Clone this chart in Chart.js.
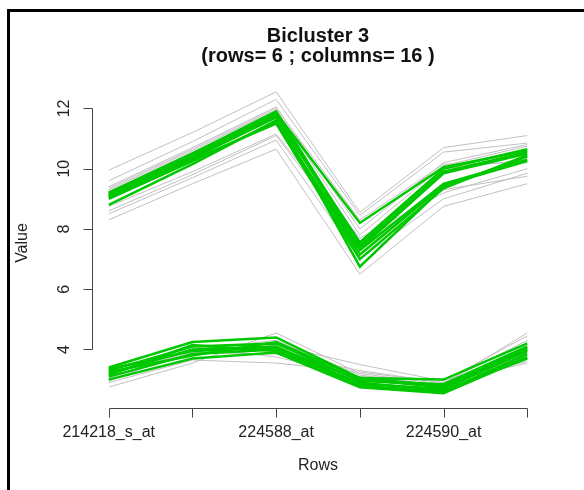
<!DOCTYPE html>
<html><head><meta charset="utf-8">
<script src="https://cdn.jsdelivr.net/npm/chart.js@4/dist/chart.umd.min.js"></script>
<style>html,body{margin:0;padding:0;background:#fff}#wrap{width:584px;height:490px;position:relative}</style>
</head><body><div id="wrap"><canvas id="c" width="584" height="490"></canvas></div>
<script>
// ---- data ----
const rowPositions = [1, 2, 3, 4, 5, 6];
const rowTickLabels = ['214218_s_at', '', '224588_at', '', '224590_at', ''];
const yTicks = [4, 6, 8, 10, 12];
const titleLines = ['Bicluster 3', '(rows= 6 ; columns= 16 )'];
const xTitle = 'Rows';
const yTitle = 'Value';

// bicluster columns (green), upper group
const green1 = [9.15, 10.45, 11.85, 8.20, 10.05, 10.60];
const green2 = [9.05, 10.35, 11.70, 7.55, 10.00, 10.65];
const green3 = [9.20, 10.50, 11.80, 7.35, 9.85, 10.50];
const green4 = [8.80, 10.15, 11.60, 7.15, 9.45, 10.25];
const green5 = [9.10, 10.40, 11.75, 6.75, 9.40, 10.40];
const green6 = [9.00, 10.25, 11.55, 7.30, 9.50, 10.30];
const green7 = [9.10, 10.30, 11.50, 7.00, 9.35, 10.45];
const green8 = [9.20, 10.50, 11.90, 7.45, 9.90, 10.55];
// bicluster columns (green), lower group
const green9  = [3.40, 4.25, 4.40, 3.05, 3.00, 4.20];
const green10 = [3.30, 4.10, 4.20, 2.95, 2.85, 4.10];
const green11 = [3.20, 4.00, 4.10, 2.85, 2.70, 3.95];
const green12 = [3.10, 3.85, 4.00, 2.80, 2.60, 3.85];
const green13 = [3.00, 3.70, 3.90, 2.75, 2.55, 3.75];
const green14 = [3.35, 3.95, 4.05, 3.00, 2.75, 4.05];
const green15 = [3.15, 4.15, 3.95, 2.90, 2.65, 3.70];
const green16 = [3.25, 3.80, 4.25, 3.05, 2.80, 4.00];

// other columns (grey), upper group
const grey1  = [9.95, 11.20, 12.55, 8.55, 10.70, 11.10];
const grey2  = [9.60, 10.90, 12.30, 8.45, 10.55, 10.85];
const grey3  = [9.40, 10.70, 12.05, 8.00, 10.20, 10.80];
const grey4  = [9.30, 10.60, 11.95, 7.80, 10.10, 10.75];
const grey5  = [9.25, 10.55, 11.85, 7.60, 10.00, 10.30];
const grey6  = [8.75, 9.90, 11.15, 7.70, 9.20, 10.00];
const grey7  = [8.50, 9.70, 10.95, 7.00, 9.00, 9.85];
const grey8  = [8.30, 9.50, 10.65, 6.50, 8.75, 9.50];
const grey9  = [9.35, 10.65, 12.00, 8.30, 10.15, 10.20];
const grey10 = [8.60, 9.80, 11.10, 7.50, 9.30, 9.75];
// other columns (grey), lower group
const grey11 = [2.75, 3.55, 4.55, 3.20, 2.85, 4.55];
const grey12 = [2.90, 3.65, 3.55, 3.25, 2.90, 3.55];
const grey13 = [3.05, 3.85, 4.15, 3.50, 2.95, 4.45];
const grey14 = [3.30, 4.10, 3.75, 3.10, 3.00, 3.60];
const grey15 = [2.95, 4.00, 4.30, 3.15, 2.80, 3.90];
const grey16 = [3.20, 3.90, 3.85, 3.30, 2.90, 4.30];

const greenSeries = [green1, green2, green3, green4, green5, green6, green7, green8,
  green9, green10, green11, green12, green13, green14, green15, green16];
const greySeries = [grey1, grey2, grey3, grey4, grey5, grey6, grey7, grey8,
  grey9, grey10, grey11, grey12, grey13, grey14, grey15, grey16];

// ---- build ----
const FONT = '"Liberation Sans", Arial, sans-serif';
const toPts = arr => arr.map((v, i) => ({x: rowPositions[i], y: v}));
const datasets = [];
greySeries.forEach((s, i) => datasets.push({
  label: 'other ' + (i + 1), data: toPts(s), borderColor: '#c0c0c0', borderWidth: 1,
  pointRadius: 0, tension: 0, order: 2, fill: false
}));
greenSeries.forEach((s, i) => datasets.push({
  label: 'col ' + (i + 1), data: toPts(s), borderColor: '#00c800', borderWidth: 2.5,
  pointRadius: 0, tension: 0, order: 1, fill: false
}));

const rAxes = {
  id: 'rAxes',
  afterDraw(chart) {
    const ctx = chart.ctx, xs = chart.scales.x, ys = chart.scales.y, ca = chart.chartArea;
    ctx.save();
    // outer frame
    ctx.strokeStyle = '#000'; ctx.lineWidth = 3;
    ctx.strokeRect(8.5, 10.5, 800, 800);
    // axes
    ctx.strokeStyle = '#444'; ctx.lineWidth = 1;
    const x0 = Math.round(ca.left) + 0.5;
    ctx.beginPath();
    ctx.moveTo(x0, Math.round(ys.getPixelForValue(yTicks[0])) + 0.5);
    ctx.lineTo(x0, Math.round(ys.getPixelForValue(yTicks[yTicks.length - 1])) + 0.5);
    yTicks.forEach(t => { const p = Math.round(ys.getPixelForValue(t)) + 0.5; ctx.moveTo(x0, p); ctx.lineTo(x0 - 9, p); });
    const y0 = Math.round(ca.bottom) + 0.5;
    ctx.moveTo(Math.round(xs.getPixelForValue(rowPositions[0])) + 0.5, y0);
    ctx.lineTo(Math.round(xs.getPixelForValue(rowPositions[rowPositions.length - 1])) + 0.5, y0);
    rowPositions.forEach(t => { const p = Math.round(xs.getPixelForValue(t)) + 0.5; ctx.moveTo(p, y0); ctx.lineTo(p, y0 + 9); });
    ctx.stroke();
    // tick labels
    ctx.fillStyle = '#222'; ctx.font = '16px ' + FONT; ctx.textAlign = 'center'; ctx.textBaseline = 'middle';
    rowPositions.forEach((t, i) => { if (rowTickLabels[i]) ctx.fillText(rowTickLabels[i], xs.getPixelForValue(t), 433); });
    yTicks.forEach(t => {
      ctx.save(); ctx.translate(65, ys.getPixelForValue(t)); ctx.rotate(-Math.PI / 2);
      ctx.fillText(String(t), 0, 0); ctx.restore();
    });
    // axis titles
    const cx = (ca.left + ca.right) / 2;
    ctx.fillText(xTitle, cx, 466);
    ctx.save(); ctx.translate(23, (ca.top + ca.bottom) / 2); ctx.rotate(-Math.PI / 2);
    ctx.fillText(yTitle, 0, 0); ctx.restore();
    // main title
    ctx.fillStyle = '#111'; ctx.font = 'bold 20px ' + FONT;
    ctx.fillText(titleLines[0], cx, 36);
    ctx.fillText(titleLines[1], cx, 56);
    ctx.restore();
  }
};

new Chart(document.getElementById('c'), {
  type: 'line',
  data: {datasets},
  options: {
    responsive: false, animation: false, events: [],
    layout: {padding: {left: 92, right: 40, top: 78, bottom: 82}},
    plugins: {legend: {display: false}, tooltip: {enabled: false}, title: {display: false}},
    scales: {
      x: {type: 'linear', min: 0.8, max: 6.2, display: false},
      y: {type: 'linear', min: 2.058, max: 13.01, display: false}
    }
  },
  plugins: [rAxes]
});
</script></body></html>
